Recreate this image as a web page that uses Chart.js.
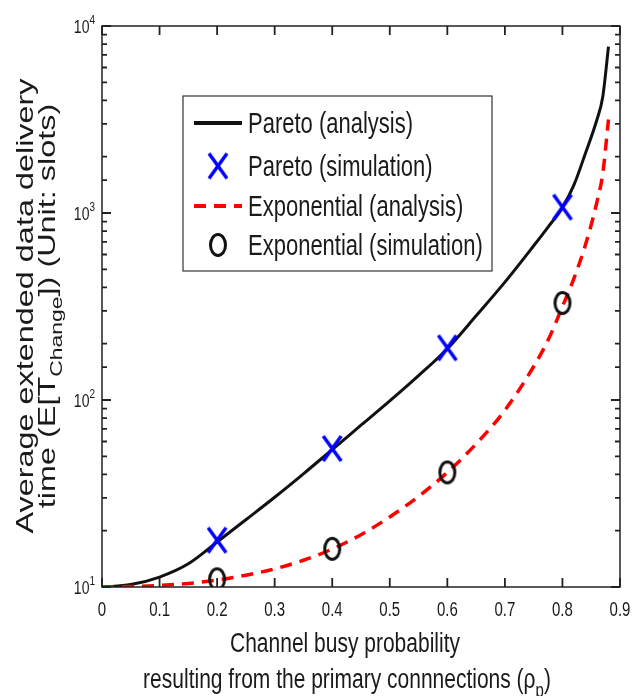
<!DOCTYPE html>
<html>
<head>
<meta charset="utf-8">
<script src="https://cdn.jsdelivr.net/npm/chart.js@4.4.0/dist/chart.umd.min.js"></script>
<style>
  html, body { margin: 0; padding: 0; background: #fff; }
  canvas { display: block; }
</style>
</head>
<body>
<canvas id="chart" width="633" height="696"></canvas>
<script>
// Values
const rhoAnalysis = [0, 0.05, 0.1, 0.15, 0.2, 0.25, 0.3, 0.35, 0.4, 0.45, 0.5, 0.55, 0.6, 0.65, 0.7, 0.75, 0.775, 0.8, 0.82, 0.84, 0.86, 0.87, 0.88];
const paretoAnalysis = [10, 10.3, 11.3, 13.3, 17.4, 22.9, 30.2, 40.3, 54.3, 73.3, 98.9, 135, 188, 282, 427, 668, 841, 1072, 1413, 2089, 3162, 4169, 7762];
const expAnalysis = [10, 10.05, 10.19, 10.45, 10.89, 11.56, 12.5, 13.9, 15.96, 19.05, 23.7, 30.5, 41, 58.2, 88.1, 151, 209, 316, 447, 676, 1148, 1622, 3162];

const rhoSim = [0.2, 0.4, 0.6, 0.8];
const paretoSim = [17.8, 55, 190, 1075];
const expSim = [11, 16, 41, 330];

const seriesLabels = ['Pareto (analysis)', 'Pareto (simulation)', 'Exponential (analysis)', 'Exponential (simulation)'];
const xTickLabels = ['0', '0.1', '0.2', '0.3', '0.4', '0.5', '0.6', '0.7', '0.8', '0.9'];
const yTickValues = [10, 100, 1000, 10000];
const yTickExponents = ['1', '2', '3', '4'];

const FONT = "'Liberation Sans', Arial, sans-serif";
const STRETCH = 1.35; // the figure is stretched vertically

// marker images (taller than wide, like the reference)
function makeCross() {
    const c = document.createElement('canvas');
    c.width = 24; c.height = 31;
    const g = c.getContext('2d');
    g.strokeStyle = '#0000ff';
    g.lineWidth = 3.5;
    g.beginPath();
    g.moveTo(3, 3); g.lineTo(21, 28);
    g.moveTo(21, 3); g.lineTo(3, 28);
    g.stroke();
    return c;
}
function makeRing() {
    const c = document.createElement('canvas');
    c.width = 22; c.height = 28;
    const g = c.getContext('2d');
    g.strokeStyle = '#111';
    g.lineWidth = 3;
    g.beginPath();
    g.ellipse(11, 14, 7.5, 10.5, 0, 0, Math.PI * 2);
    g.stroke();
    return c;
}
const crossImg = makeCross();
const ringImg = makeRing();

// draw text made of runs (plain / sub / sup), optionally rotated
function drawRuns(ctx, runs, x, y, size, align, rotated) {
    const fontOf = r => (r.sub || r.sup ? Math.round(size * 0.7) : size) + 'px ' + FONT;
    let total = 0;
    const widths = runs.map(r => { ctx.font = fontOf(r); const w = ctx.measureText(r.text).width; total += w; return w; });
    let pos = align === 'center' ? -total / 2 : align === 'right' ? -total : 0;
    ctx.save();
    ctx.translate(x, y);
    if (rotated) { ctx.rotate(-Math.PI / 2); ctx.scale(STRETCH, 1); }
    else ctx.scale(1, STRETCH);
    ctx.fillStyle = '#1a1a1a';
    ctx.textBaseline = 'alphabetic';
    ctx.textAlign = 'left';
    runs.forEach((r, i) => {
        ctx.font = fontOf(r);
        let dy = 0;
        if (r.sub) dy = size * 0.3;
        if (r.sup) dy = -size * 0.45;
        ctx.fillText(r.text, pos, dy);
        pos += widths[i];
    });
    ctx.restore();
}

const framePlugin = {
    id: 'frame',
    afterDraw(chart) {
        const ctx = chart.ctx;
        const a = chart.chartArea;
        const xs = chart.scales.x, ys = chart.scales.y;
        ctx.save();
        ctx.setLineDash([]);
        // inward ticks on all four sides
        ctx.strokeStyle = '#222';
        ctx.lineWidth = 1.8;
        ctx.beginPath();
        xTickLabels.forEach(t => {
            const px = xs.getPixelForValue(parseFloat(t));
            ctx.moveTo(px, a.bottom); ctx.lineTo(px, a.bottom - 9);
            ctx.moveTo(px, a.top); ctx.lineTo(px, a.top + 9);
        });
        ys.ticks.forEach(t => {
            const lg = Math.log10(t.value);
            const major = Math.abs(lg - Math.round(lg)) < 1e-6;
            const len = major ? 9 : 5;
            const py = ys.getPixelForValue(t.value);
            ctx.moveTo(a.left, py); ctx.lineTo(a.left + len, py);
            ctx.moveTo(a.right, py); ctx.lineTo(a.right - len, py);
        });
        ctx.stroke();
        // box
        ctx.lineWidth = 1.5;
        ctx.strokeRect(a.left, a.top, a.right - a.left, a.bottom - a.top);
        ctx.restore();

        // tick labels
        xTickLabels.forEach(t => {
            drawRuns(ctx, [{ text: t }], xs.getPixelForValue(parseFloat(t)), a.bottom + 29, 15, 'center', false);
        });
        yTickValues.forEach((v, i) => {
            drawRuns(ctx, [{ text: '10' }, { text: yTickExponents[i], sup: true }], a.left - 7, ys.getPixelForValue(v) + 7, 14, 'right', false);
        });

        // axis titles
        drawRuns(ctx, [{ text: 'Channel busy probability' }], 345, 652, 21, 'center', false);
        drawRuns(ctx, [{ text: 'resulting from the primary connnections (ρ' }, { text: 'p', sub: true }, { text: ')' }], 347, 688, 21, 'center', false);
        drawRuns(ctx, [{ text: 'Average extended data delivery' }], 33, 306, 24, 'center', true);
        drawRuns(ctx, [{ text: 'time (E[T' }, { text: 'Change', sub: true }, { text: ']) (Unit: slots)' }], 55, 306, 24, 'center', true);

        // legend box
        ctx.save();
        ctx.fillStyle = '#fff';
        ctx.fillRect(183, 96, 309, 175);
        ctx.strokeStyle = '#333';
        ctx.lineWidth = 1.2;
        ctx.strokeRect(183, 96, 309, 175);
        const rows = [123, 166, 206, 245];
        chart.data.datasets.forEach((ds, i) => {
            const cy = rows[i];
            if (ds.showLine === false) {
                const img = ds.pointStyle;
                ctx.drawImage(img, 218 - img.width / 2, cy - img.height / 2);
            } else {
                ctx.strokeStyle = ds.borderColor;
                ctx.lineWidth = 4;
                ctx.setLineDash(ds.borderDash || []);
                ctx.beginPath();
                ctx.moveTo(194, cy); ctx.lineTo(242, cy);
                ctx.stroke();
                ctx.setLineDash([]);
            }
        });
        ctx.restore();
        chart.data.datasets.forEach((ds, i) => {
            drawRuns(ctx, [{ text: ds.label }], 248, rows[i] + 10, 22, 'left', false);
        });
    }
};

const toPoints = (xv, yv) => xv.map((x, i) => ({ x: x, y: yv[i] }));

new Chart(document.getElementById('chart'), {
    type: 'line',
    data: {
        datasets: [
            {
                label: seriesLabels[0],
                data: toPoints(rhoAnalysis, paretoAnalysis),
                borderColor: '#111',
                borderWidth: 3,
                pointRadius: 0,
                cubicInterpolationMode: 'monotone',
                order: 2
            },
            {
                label: seriesLabels[1],
                data: toPoints(rhoSim, paretoSim),
                showLine: false,
                pointStyle: crossImg,
                pointRadius: 12,
                order: 0
            },
            {
                label: seriesLabels[2],
                data: toPoints(rhoAnalysis, expAnalysis),
                borderColor: '#ff0000',
                borderWidth: 3.5,
                borderDash: [12, 8],
                pointRadius: 0,
                cubicInterpolationMode: 'monotone',
                order: 1
            },
            {
                label: seriesLabels[3],
                data: toPoints(rhoSim, expSim),
                showLine: false,
                pointStyle: ringImg,
                pointRadius: 12,
                order: 0
            }
        ]
    },
    options: {
        responsive: false,
        animation: false,
        devicePixelRatio: 1,
        layout: { padding: { top: 26, right: 13, left: 0, bottom: 0 } },
        plugins: { legend: { display: false }, tooltip: { enabled: false } },
        scales: {
            x: {
                type: 'linear',
                min: 0,
                max: 0.9,
                ticks: { stepSize: 0.1, display: false },
                grid: { display: false },
                border: { display: false },
                afterFit: s => { s.height = 109; }
            },
            y: {
                type: 'logarithmic',
                min: 10,
                max: 10000,
                ticks: { display: false },
                grid: { display: false },
                border: { display: false },
                afterFit: s => { s.width = 102; }
            }
        }
    },
    plugins: [framePlugin]
});
</script>
</body>
</html>
